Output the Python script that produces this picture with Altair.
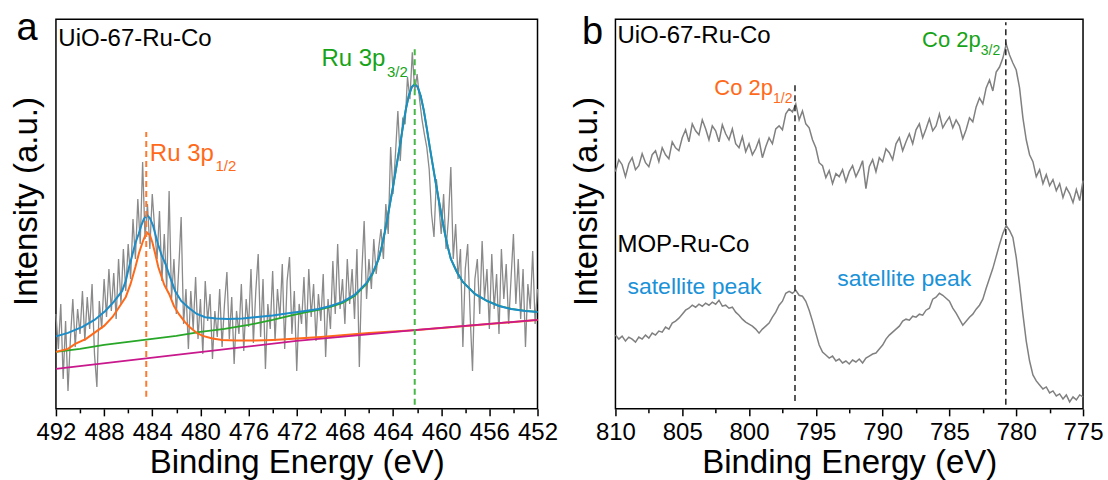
import altair as alt
import pandas as pd

FONT = "Liberation Sans"

# ---------------- Panel a : Ru 3p (UiO-67-Ru-Co) ----------------
A_START, A_STEP = 492.0, -0.2
A_GRAY = [
    95, 60, 105, 30, 88, 18, 70, 110, 62, 100,
    75, 118, 68, 112, 80, 125, 55, 22, 108, 80,
    130, 92, 140, 98, 136, 90, 150, 105, 160, 118,
    165, 130, 190, 150, 210, 165, 247, 170, 205, 160,
    215, 180, 150, 198, 128, 175, 120, 218, 110, 150,
    95, 140, 192, 85, 120, 60, 118, 80, 132, 70,
    110, 55, 128, 88, 115, 50, 98, 72, 120, 62,
    105, 137, 70, 112, 45, 98, 75, 125, 58, 110,
    82, 140, 66, 118, 155, 72, 130, 40, 105, 80,
    138, 68, 120, 90, 145, 60, 128, 152, 75, 118,
    38, 105, 85, 132, 70, 140, 92, 125, 68, 115,
    88, 135, 52, 110, 80, 148, 95, 165, 100, 130,
    85, 150, 105, 140, 90, 160, 42, 135, 188, 110,
    150, 120, 170, 135, 160, 180, 150, 205, 175, 262,
    215, 255, 298, 248, 290, 285, 332, 310, 357, 318,
    335, 310, 290, 275, 262, 240, 195, 172, 230, 205,
    175, 215, 160, 190, 242, 150, 185, 130, 160, 62,
    140, 165, 95, 38, 130, 150, 95, 168, 110, 140,
    80, 155, 100, 135, 75, 160, 110, 145, 85, 130,
    175, 105, 150, 90, 140, 62, 125, 100, 158, 85,
    120,
]

A_MAG_X = [492, 482, 472, 462, 452]
A_MAG_V = [40, 54, 68, 79, 89]

A_ORA_X = [492.0, 491.0, 490.4, 489.5, 488.7, 488.0, 487.3, 486.8, 486.2, 485.8,
           485.4, 485.1, 484.8, 484.6, 484.4, 484.2, 484.0, 483.75, 483.5, 483.0,
           482.6, 482.2, 481.8, 481.3, 480.9, 480.3, 479.8, 479.0, 478.2, 477.0,
           475.4, 474.0, 472.6, 471.3, 470.0, 468.0, 466.0, 464.0, 462.0, 457.0, 452.0]
A_ORA_V = [57, 60, 65, 70, 77, 83, 92, 101, 112, 125,
           142, 156, 167, 173, 176, 174, 167, 155, 142, 124,
           115, 103, 95, 87, 82, 76, 73, 70.5, 69, 68.5,
           68.3, 69, 70, 71, 72, 74, 76, 77.5, 79, 84, 89]

A_PK_X = [464.95, 464.7, 464.45, 464.2, 463.95, 463.7, 463.45, 463.2, 462.95, 462.7,
          462.45, 462.2, 461.95, 461.7, 461.45, 461.2, 460.95, 460.7, 460.45, 460.2,
          459.95, 459.7, 459.45, 459.2, 458.7, 458.2, 457.2, 456.2, 455.2, 454.2,
          453.0, 452.0]
A_PK_V = [162, 176, 192, 209, 226, 244, 262, 281, 299, 313,
          322, 325, 322, 313, 299, 281, 262, 244, 226, 209,
          192, 176, 162, 150, 137, 127, 115, 108, 103, 100,
          98, 97]

A_BLU_X = [492.0, 491.0, 489.8, 488.8, 487.9, 487.2, 486.5, 486.2, 485.95, 485.7,
           485.4, 485.13, 484.9, 484.7, 484.45, 484.2, 483.95, 483.75, 483.5, 483.2,
           482.9, 482.5, 482.1, 481.6, 481.0, 480.3, 479.6, 478.7, 477.7, 476.5,
           475.5, 474.0, 472.7, 471.3, 470.2, 469.2, 468.2, 467.2, 466.2, 465.7,
           465.2] + A_PK_X
A_BLU_V = [72.5, 76, 82, 89, 98, 107, 118, 128, 141, 152,
           166, 175, 184, 190, 194, 191, 184, 175, 164, 153,
           145, 131, 118, 108, 101.5, 95, 91.7, 90.5, 90, 90.5,
           91.7, 93.5, 95.7, 98, 100, 103, 107, 114, 126, 136,
           150] + A_PK_V

A_GRN_X = [492, 490, 488, 486, 484, 482, 480, 478, 476, 474,
           472.6, 471.3, 470.2, 469.2, 468.2, 467.2, 466.2, 465.7, 465.2] + A_PK_X
A_GRN_V = [57, 60, 64, 67, 70, 73, 77, 80, 84, 89,
           93, 96.5, 99, 102, 106, 113, 125, 135, 149.5] + A_PK_V

# ---------------- Panel b : Co 2p ----------------
B_START, B_STEP = 810.0, -0.25
B_UIO = [
    238, 250, 245, 233, 246, 252, 240, 244, 256, 247,
    243, 255, 259, 248, 262, 255, 251, 268, 262, 259,
    272, 280, 268, 286, 279, 275, 290, 281, 270, 284,
    279, 268, 285, 276, 270, 281, 266, 262, 273, 258,
    266, 255, 261, 270, 252, 263, 272, 266, 281, 284,
    280, 296, 301, 298, 306, 290, 299, 286, 282, 270,
    262, 247, 244, 232, 239, 226, 236, 233, 240, 228,
    238, 244, 233, 240, 249, 221, 243, 250, 238, 252,
    248, 261, 257, 250, 266, 272, 259, 268, 276, 266,
    280, 286, 272, 281, 291, 279, 284, 296, 282, 288,
    293, 282, 290, 284, 271, 280, 292, 288, 303, 312,
    306, 322, 330, 319, 338, 343, 352, 366, 355, 347,
    340, 322, 292, 270, 255, 248, 233, 240, 226, 235,
    224, 230, 219, 226, 212, 222, 216, 207, 220, 209,
    229,
]
B_MOP = [
    74, 70, 73, 68, 72, 70, 67, 72, 70, 74,
    71, 76, 74, 78, 77, 82, 80, 86, 88, 91,
    95, 99, 101, 104, 102, 105, 103, 106, 104, 107,
    105, 109, 103, 104, 101, 102, 97, 94, 90, 87,
    85, 83, 80, 76, 80, 83, 86, 92, 97, 104,
    108, 116, 118, 116, 119, 114, 113, 108, 99, 88,
    76, 64, 57, 54, 51, 53, 48, 50, 46, 48,
    45, 49, 47, 50, 46, 51, 53, 55, 56, 60,
    64, 70, 74, 77, 80, 83, 88, 90, 89, 93,
    92, 95, 94, 99, 101, 110, 112, 116, 114, 111,
    108, 101, 96, 90, 84, 88, 92, 95, 100, 104,
    110, 121, 131, 141, 153, 165, 176, 184, 179, 172,
    152, 125, 95, 68, 48, 34, 28, 24, 20, 22,
    16, 18, 13, 15, 10, 14, 7, 12, 9, 14,
    12,
]

# colours
C_GRAY = "#8a8a8a"
C_BLUE = "#1c8dc8"
C_ORANGE = "#ff6a1a"
C_GREEN = "#27a627"
C_MAGENTA = "#c8188c"
C_TXT_BLUE = "#1b92d8"
C_TXT_GREEN = "#17a317"

# ---------------- helpers ----------------
def xenc(domain, values, major):
    return alt.X(
        "x:Q",
        scale=alt.Scale(domain=domain, reverse=True, nice=False, zero=False),
        axis=alt.Axis(
            values=values,
            labelExpr=f"datum.value % {major} === 0 ? datum.label : ''",
            tickSize={"condition": {"test": f"datum.value % {major} === 0", "value": 7}, "value": 4},
            title="Binding Energy (eV)",
            labelOverlap=False,
            labelFlush=False,
            grid=False,
            domain=False,
        ),
    )


def yenc(top):
    return alt.Y(
        "v:Q",
        scale=alt.Scale(domain=[0, top], nice=False, zero=False),
        axis=alt.Axis(title="Intensity (a.u.)", labels=False, ticks=False,
                      domain=False, grid=False, titlePadding=12, titleY=182),
    )


def line_layer(xs, vs, color, width, X, Y):
    df = pd.DataFrame({"x": xs, "v": vs})
    return alt.Chart(df).mark_line(color=color, strokeWidth=width).encode(x=X, y=Y)


def text_layer(rows, X, Y):
    df = pd.DataFrame(rows, columns=["x", "v", "text", "color", "size"])
    return alt.Chart(df).mark_text(font=FONT, align="left", baseline="alphabetic").encode(
        x=X, y=Y, text="text:N",
        color=alt.Color("color:N", scale=None),
        size=alt.Size("size:Q", scale=None),
    )


# ---------------- panel a ----------------
XA = xenc([452, 492], list(range(452, 493, 2)), 4)
YA = yenc(390)

a_x = [round(A_START + A_STEP * i, 2) for i in range(len(A_GRAY))]
a_gray = line_layer(a_x, A_GRAY, C_GRAY, 1.3, XA, YA)
a_mag = line_layer(A_MAG_X, A_MAG_V, C_MAGENTA, 1.8, XA, YA)
a_grn = line_layer(A_GRN_X, A_GRN_V, C_GREEN, 1.8, XA, YA)
a_ora = line_layer(A_ORA_X, A_ORA_V, C_ORANGE, 2, XA, YA)
a_blu = line_layer(A_BLU_X, A_BLU_V, C_BLUE, 2, XA, YA)

a_rules_df = pd.DataFrame({"x": [484.5, 462.2], "v": [12, 4], "v2": [277, 362],
                           "color": ["#ff7a2e", "#45b845"]})
a_rules = alt.Chart(a_rules_df).mark_rule(strokeDash=[6, 4], strokeWidth=2).encode(
    x=XA, y=YA, y2="v2:Q", color=alt.Color("color:N", scale=None))

a_text = text_layer([
    [491.8, 363, "UiO-67-Ru-Co", "black", 24],
    [484.2, 248, "Ru 3p", C_ORANGE, 24],
    [478.75, 238, "1/2", C_ORANGE, 15],
    [469.95, 343, "Ru 3p", C_TXT_GREEN, 24],
    [464.5, 332, "3/2", C_TXT_GREEN, 15],
], XA, YA)

a_letter = alt.Chart(pd.DataFrame({"t": ["a"]})).mark_text(
    font=FONT, fontSize=38, align="center", baseline="alphabetic", color="black"
).encode(x=alt.value(-29), y=alt.value(21), text="t:N")

panel_a = alt.layer(a_gray, a_grn, a_ora, a_mag, a_blu, a_rules, a_text, a_letter).properties(
    width=482, height=390)

# ---------------- panel b ----------------
XB = xenc([775, 810], [775 + 2.5 * i for i in range(15)], 5)
YB = yenc(391)

b_x = [round(B_START + B_STEP * i, 2) for i in range(len(B_UIO))]
b_uio = line_layer(b_x, B_UIO, "#808080", 1.5, XB, YB)
b_mop = line_layer(b_x, B_MOP, "#808080", 1.5, XB, YB)

b_rules_df = pd.DataFrame({"x": [796.56, 780.78], "v": [8, 4], "v2": [328, 388]})
b_rules = alt.Chart(b_rules_df).mark_rule(strokeDash=[6, 4], strokeWidth=1.5, color="#222222").encode(
    x=XB, y=YB, y2="v2:Q")

b_text = text_layer([
    [809.85, 367, "UiO-67-Ru-Co", "black", 24],
    [802.6, 315, "Co 2p", C_ORANGE, 22],
    [798.2, 307, "1/2", C_ORANGE, 14],
    [787.05, 363, "Co 2p", C_TXT_GREEN, 22],
    [782.65, 355, "3/2", C_TXT_GREEN, 14],
    [809.85, 157, "MOP-Ru-Co", "black", 24],
    [809.1, 115, "satellite peak", C_TXT_BLUE, 23],
    [793.4, 123, "satellite peak", C_TXT_BLUE, 23],
], XB, YB)

b_letter = alt.Chart(pd.DataFrame({"t": ["b"]})).mark_text(
    font=FONT, fontSize=38, align="center", baseline="alphabetic", color="black"
).encode(x=alt.value(-23), y=alt.value(25), text="t:N")

panel_b = alt.layer(b_uio, b_mop, b_rules, b_text, b_letter).properties(width=468, height=390)

chart = alt.hconcat(panel_a, panel_b, spacing=78, bounds="flush",
                    padding={"left": 10, "top": 9, "right": 4, "bottom": 0}).configure(
    background="white"
).configure_view(
    stroke="black", strokeWidth=1.5
).configure_axis(
    labelFont=FONT, titleFont=FONT, labelFontSize=24, titleFontSize=33,
    labelColor="black", titleColor="black", tickColor="black", tickWidth=1.5,
    titleFontWeight="normal", labelPadding=5,
).configure_axisX(titlePadding=2)

chart.save("out.html", embed_options={"renderer": "svg", "actions": False})
